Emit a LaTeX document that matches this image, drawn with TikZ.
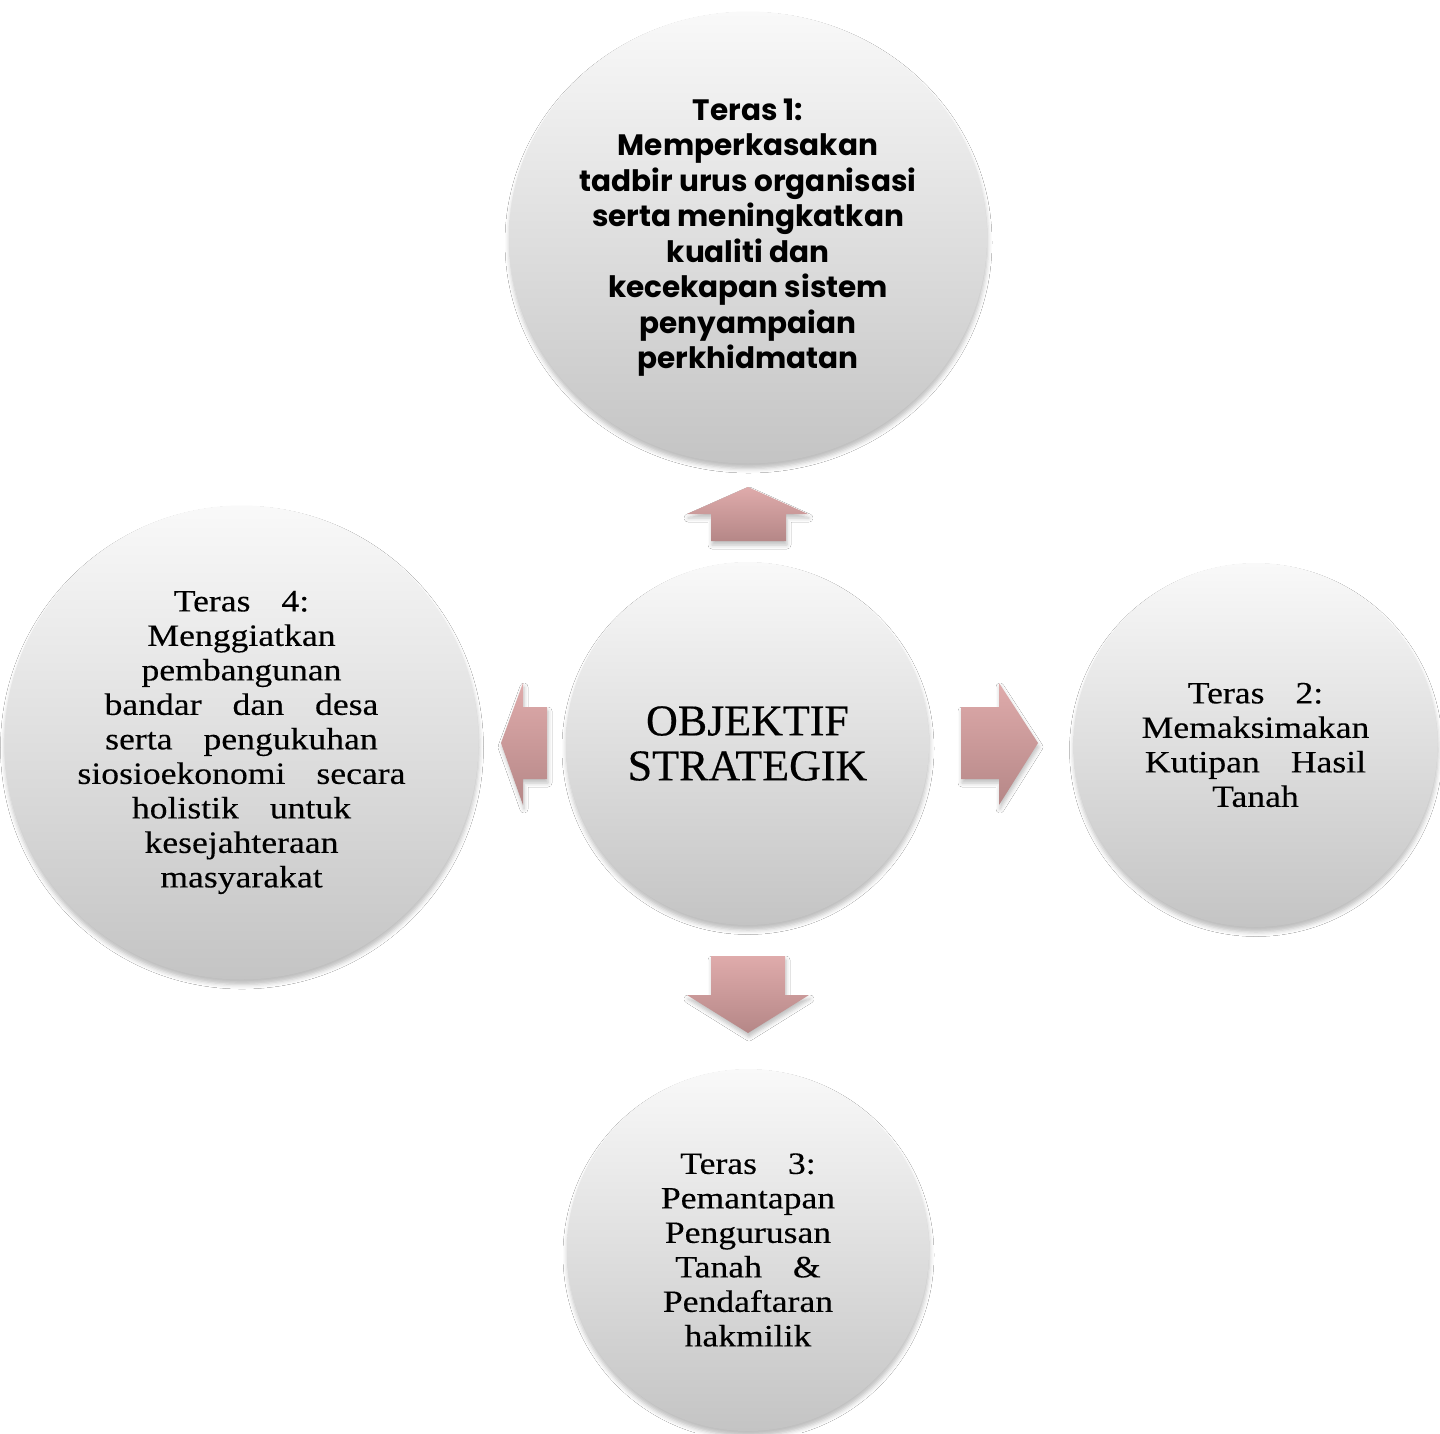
\documentclass[tikz,border=0pt]{standalone}
\usepackage{fontspec}
\setmainfont{Liberation Serif}
\newfontfamily\goudy[FakeStretch=1.15,FakeBold=0.3]{Liberation Serif}
\newfontfamily\objfont[FakeBold=0.4]{Liberation Serif}
\newfontfamily\gothic{Poppins}
\usetikzlibrary{shapes.geometric,shadows.blur}
\definecolor{ctop}{RGB}{249,249,249}
\definecolor{cbot}{RGB}{196,196,196}
\definecolor{atop}{RGB}{223,171,171}
\definecolor{abot}{RGB}{181,135,135}
\newcommand\wg{\hspace{31pt}}
\tikzset{
  softshadow/.style={blur shadow={shadow xshift=0.5pt,shadow yshift=-5pt,shadow blur radius=4.5pt,shadow opacity=26}},
  ball/.style={circle, inner sep=0pt, top color=ctop, bottom color=cbot, draw=none, softshadow, align=center, text=black},
  tsf/.style={font=\goudy\fontsize{31}{34.5}\selectfont},
  blockarrow/.style={top color=atop, bottom color=abot, draw=none, blur shadow={shadow xshift=1pt,shadow yshift=-4pt,shadow blur radius=4pt,shadow opacity=25}}
}
\begin{document}
\begin{tikzpicture}[x=1pt,y=-1pt]
\fill[white] (0,0) rectangle (1440,1433);
\useasboundingbox (0,0) rectangle (1440,1433);

\node[ball, ellipse, minimum width=478pt, minimum height=452pt,
      font=\gothic\bfseries\fontsize{29.5}{35.5}\selectfont] (t1) at (748,237.5)
  {Teras 1:\\Memperkasakan\\tadbir urus organisasi\\serta meningkatkan\\kualiti dan\\kecekapan sistem\\penyampaian\\perkhidmatan};

\node[ball, minimum size=363pt, font=\objfont\fontsize{44}{45}\selectfont] (obj) at (747.5,743.5)
  {OBJEKTIF\\STRATEGIK};

\node[ball, minimum size=364pt, tsf] (t2) at (1255.5,745)
  {Teras\wg 2:\\Memaksimakan\\Kutipan\wg Hasil\\Tanah};

\node[ball, minimum size=362pt, tsf] (t3) at (748,1250)
  {Teras\wg 3:\\Pemantapan\\Pengurusan\\Tanah\wg \&\\Pendaftaran\\hakmilik};

\node[ball, minimum size=474pt, tsf] (t4) at (241.5,742.5)
  {Teras\wg 4:\\Menggiatkan\\pembangunan\\bandar\wg dan\wg desa\\serta\wg pengukuhan\\siosioekonomi\wg secara\\holistik\wg untuk\\kesejahteraan\\masyarakat};

% block arrows
\path[blockarrow] (748,487) -- (808,514) -- (786,514) -- (786,541) -- (711,541) -- (711,514) -- (687,514) -- cycle;
\path[blockarrow] (711,956) -- (785,956) -- (785,995) -- (809,995) -- (748,1033) -- (687,995) -- (711,995) -- cycle;
\path[blockarrow] (961,707) -- (999,707) -- (999,683) -- (1038,743) -- (999,805) -- (999,779) -- (961,779) -- cycle;
\path[blockarrow] (547,707) -- (523,707) -- (523,683) -- (501,743) -- (523,805) -- (523,779) -- (547,779) -- cycle;
\end{tikzpicture}
\end{document}
